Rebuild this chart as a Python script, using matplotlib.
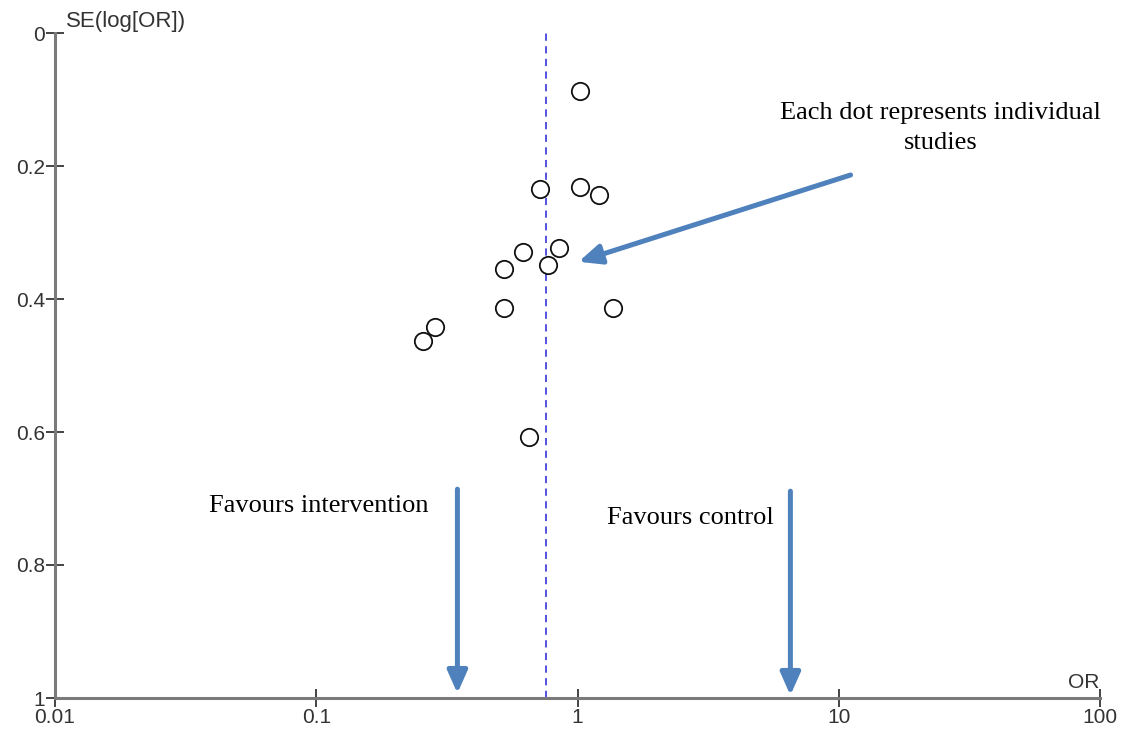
import matplotlib
matplotlib.use("Agg")
import matplotlib.pyplot as plt
from matplotlib.ticker import FixedLocator, FixedFormatter, NullLocator

# Data: odds ratios and standard errors of log(OR) for each study
odds_ratio = [1.02, 0.716, 1.02, 1.21, 0.846, 0.616, 0.521, 0.774, 0.521, 1.373, 0.286, 0.257, 0.655]
se_log_or = [0.087, 0.235, 0.232, 0.244, 0.323, 0.329, 0.355, 0.349, 0.414, 0.414, 0.442, 0.463, 0.608]
pooled_or = 0.76

x_ticks = [0.01, 0.1, 1, 10, 100]
x_tick_labels = ["0.01", "0.1", "1", "10", "100"]
y_ticks = [0, 0.2, 0.4, 0.6, 0.8, 1]
y_tick_labels = ["0", "0.2", "0.4", "0.6", "0.8", "1"]

W, H = 1128, 733
fig = plt.figure(figsize=(W / 100, H / 100), dpi=100)
ax = fig.add_axes([55 / W, (H - 698) / H, (1100 - 55) / W, (698 - 33) / H])

axis_color = "#7a7a7a"
label_color = "#333333"
arrow_color = "#4F81BD"

ax.set_xscale("log")
ax.set_xlim(0.01, 100)
ax.set_ylim(1, 0)

for s in ["top", "right"]:
    ax.spines[s].set_visible(False)
for s in ["left", "bottom"]:
    ax.spines[s].set_color(axis_color)
    ax.spines[s].set_linewidth(2.2)

ax.xaxis.set_major_locator(FixedLocator(x_ticks))
ax.xaxis.set_major_formatter(FixedFormatter(x_tick_labels))
ax.xaxis.set_minor_locator(NullLocator())
ax.yaxis.set_major_locator(FixedLocator(y_ticks))
ax.yaxis.set_major_formatter(FixedFormatter(y_tick_labels))

ax.tick_params(axis="both", direction="inout", length=12.5, width=1.4, color="#444444",
               labelsize=15, labelcolor=label_color)
ax.tick_params(axis="x", pad=1)
ax.tick_params(axis="y", pad=1)
for lbl in ax.get_xticklabels() + ax.get_yticklabels():
    lbl.set_fontfamily("Liberation Sans")

# pooled estimate line
ax.axvline(pooled_or, color="#4444dd", linestyle=(0, (4, 3)), linewidth=1.3, zorder=1)

# studies
ax.plot(odds_ratio, se_log_or, linestyle="none", marker="o", markersize=12.5,
        markerfacecolor="white", markeredgecolor="#111111", markeredgewidth=1.3, zorder=3)

# axis labels
fig.text(66 / W, 1 - 21 / H, "SE(log[OR])", fontsize=16, color=label_color,
         family="Liberation Sans", ha="left", va="center")
fig.text(1099 / W, 1 - 683 / H, "OR", fontsize=15, color=label_color,
         family="Liberation Sans", ha="right", va="center")

serif = "Liberation Serif"
ax.text(24.6, 0.143, "Each dot represents individual\nstudies", fontsize=19,
        family=serif, ha="center", va="center", linespacing=1.45, color="#000000")
ax.text(0.102, 0.712, "Favours intervention", fontsize=19, family=serif,
        ha="center", va="center", color="#000000")
ax.text(2.71, 0.729, "Favours control", fontsize=19, family=serif,
        ha="center", va="center", color="#000000")

arrow_props = dict(arrowstyle="-|>,head_length=0.9,head_width=0.4", color=arrow_color,
                   lw=3.6, shrinkA=0, shrinkB=0, mutation_scale=15)
ax.annotate("", xy=(0.347, 0.993), xytext=(0.347, 0.686), arrowprops=arrow_props)
ax.annotate("", xy=(6.53, 0.996), xytext=(6.53, 0.689), arrowprops=arrow_props)
ax.annotate("", xy=(1.01, 0.344), xytext=(11.1, 0.2135), arrowprops=arrow_props)

fig.savefig("out.png", dpi=100, facecolor="white")
